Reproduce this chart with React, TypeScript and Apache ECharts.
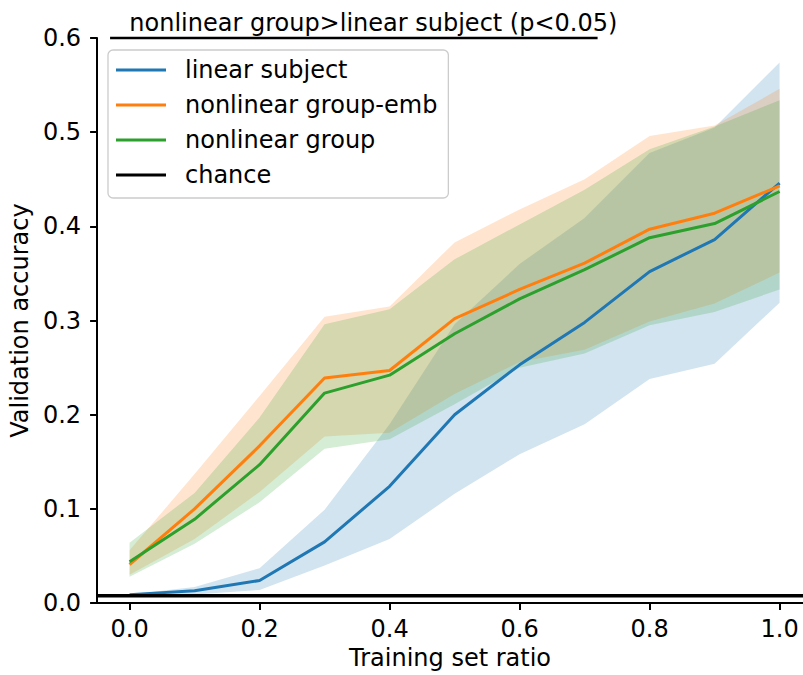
import React, { useEffect, useRef } from "react";
import * as echarts from "echarts";

const ratios = [0, 0.1, 0.2, 0.3, 0.4, 0.5, 0.6, 0.7, 0.8, 0.9, 1.0];
const xTicks = [0, 0.2, 0.4, 0.6, 0.8, 1.0];

const linearMean = [0.009, 0.013, 0.024, 0.065, 0.124, 0.2, 0.253, 0.298, 0.352, 0.386, 0.446];
const linearLow = [0.007, 0.009, 0.014, 0.04, 0.068, 0.116, 0.158, 0.19, 0.238, 0.254, 0.319];
const linearHigh = [0.009, 0.017, 0.037, 0.099, 0.19, 0.296, 0.36, 0.409, 0.478, 0.505, 0.574];

const embMean = [0.041, 0.1, 0.167, 0.239, 0.247, 0.302, 0.333, 0.361, 0.397, 0.414, 0.443];
const embLow = [0.03, 0.068, 0.118, 0.177, 0.181, 0.222, 0.256, 0.269, 0.299, 0.318, 0.351];
const embHigh = [0.056, 0.137, 0.22, 0.304, 0.315, 0.383, 0.418, 0.45, 0.496, 0.507, 0.546];

const groupMean = [0.044, 0.089, 0.147, 0.223, 0.242, 0.286, 0.323, 0.354, 0.388, 0.403, 0.437];
const groupLow = [0.028, 0.063, 0.107, 0.164, 0.174, 0.211, 0.25, 0.265, 0.295, 0.309, 0.333];
const groupHigh = [0.064, 0.117, 0.197, 0.296, 0.312, 0.365, 0.402, 0.439, 0.482, 0.506, 0.534];

const chanceLevel = 0.0078;
const sigSpan = [-0.03, 0.72];
const sigLevel = 0.6;
const sigText = "nonlinear group>linear subject (p<0.05)";
const sigTextX = 0.375;

const names = ["linear subject", "nonlinear group-emb", "nonlinear group", "chance"];

const X_MIN = -0.05;
const X_MAX = 1.036;
const FONT = "DejaVu Sans";

function bandSeries(id: string, lo: number[], hi: number[], fill: string) {
  return {
    type: "custom",
    name: id,
    z: 1,
    silent: true,
    data: ratios.map((x, i) => [x, lo[i], hi[i]]),
    encode: { x: 0, y: [1, 2] },
    renderItem: (params: any, api: any) => {
      if (params.dataIndex !== 0) return null;
      const top = ratios.map((x, i) => api.coord([x, hi[i]]));
      const bot = ratios.map((x, i) => api.coord([x, lo[i]])).reverse();
      return {
        type: "polygon",
        shape: { points: top.concat(bot) },
        style: { fill },
      };
    },
  };
}

function lineSeries(name: string, ys: number[], color: string) {
  return {
    type: "line",
    name,
    z: 3,
    data: ratios.map((x, i) => [x, ys[i]]),
    symbol: "none",
    showSymbol: false,
    lineStyle: { color, width: 3 },
    itemStyle: { color },
  };
}

export default function App() {
  const ref = useRef<HTMLDivElement>(null);
  useEffect(() => {
    if (!ref.current) return;
    const chart = echarts.init(ref.current, null, { renderer: "svg" });
    const option: any = {
      animation: false,
      textStyle: { fontFamily: FONT },
      grid: { left: 96, right: 0, top: 38, bottom: 71, containLabel: false },
      legend: {
        data: names,
        orient: "vertical",
        left: 108,
        top: 50,
        icon: "rect",
        itemWidth: 50,
        itemHeight: 3,
        itemGap: 9,
        padding: [7, 11, 10, 8],
        backgroundColor: "rgba(255,255,255,0.8)",
        borderColor: "#cccccc",
        borderWidth: 1.3,
        borderRadius: 5,
        selectedMode: false,
        textStyle: {
          fontFamily: FONT,
          fontSize: 24,
          color: "#000",
          lineHeight: 26,
          padding: [0, 0, 0, 14],
        },
      },
      xAxis: {
        type: "value",
        min: X_MIN,
        max: X_MAX,
        name: "Training set ratio",
        nameLocation: "middle",
        nameGap: 40,
        nameTextStyle: { fontFamily: FONT, fontSize: 24, color: "#000" },
        axisLine: { show: true, onZero: false, lineStyle: { color: "#000", width: 2 } },
        axisTick: { show: true, length: 7, lineStyle: { color: "#000", width: 2 }, customValues: xTicks },
        axisLabel: {
          fontFamily: FONT,
          fontSize: 24,
          color: "#000",
          margin: 14,
          customValues: xTicks,
          formatter: (v: number) => v.toFixed(1),
        },
        splitLine: { show: false },
      },
      yAxis: {
        type: "value",
        min: 0,
        max: 0.6,
        interval: 0.1,
        name: "Validation accuracy",
        nameLocation: "middle",
        nameGap: 58,
        nameTextStyle: { fontFamily: FONT, fontSize: 24, color: "#000" },
        axisLine: { show: true, onZero: false, lineStyle: { color: "#000", width: 2 } },
        axisTick: { show: true, length: 7, lineStyle: { color: "#000", width: 2 } },
        axisLabel: {
          fontFamily: FONT,
          fontSize: 24,
          color: "#000",
          margin: 16,
          formatter: (v: number) => v.toFixed(1),
        },
        splitLine: { show: false },
      },
      series: [
        bandSeries("band-linear", linearLow, linearHigh, "rgba(31,119,180,0.2)"),
        bandSeries("band-emb", embLow, embHigh, "rgba(255,127,14,0.2)"),
        bandSeries("band-group", groupLow, groupHigh, "rgba(44,160,44,0.2)"),
        lineSeries(names[0], linearMean, "#1f77b4"),
        lineSeries(names[1], embMean, "#ff7f0e"),
        lineSeries(names[2], groupMean, "#2ca02c"),
        {
          type: "line",
          name: names[3],
          z: 4,
          data: [
            [X_MIN, chanceLevel],
            [X_MAX, chanceLevel],
          ],
          symbol: "none",
          lineStyle: { color: "#000", width: 3.5 },
          itemStyle: { color: "#000" },
        },
        {
          type: "line",
          name: "sig",
          z: 4,
          clip: false,
          data: [
            [sigSpan[0], sigLevel],
            [sigSpan[1], sigLevel],
          ],
          symbol: "none",
          lineStyle: { color: "#000", width: 2.5 },
          itemStyle: { color: "#000" },
        },
        {
          type: "scatter",
          name: "sig-label",
          z: 5,
          clip: false,
          silent: true,
          symbolSize: 1,
          data: [[sigTextX, sigLevel]],
          itemStyle: { color: "rgba(0,0,0,0)" },
          label: {
            show: true,
            position: "top",
            distance: 3,
            formatter: sigText,
            fontFamily: FONT,
            fontSize: 24,
            color: "#000000",
            opacity: 1,
            textBorderWidth: 0,
          },
        },
      ],
    };
    chart.setOption(option);
    return () => chart.dispose();
  }, []);
  return (
    <div
      ref={ref}
      style={{ position: "fixed", left: 0, top: 0, width: 803, height: 675, background: "#fff" }}
    />
  );
}
